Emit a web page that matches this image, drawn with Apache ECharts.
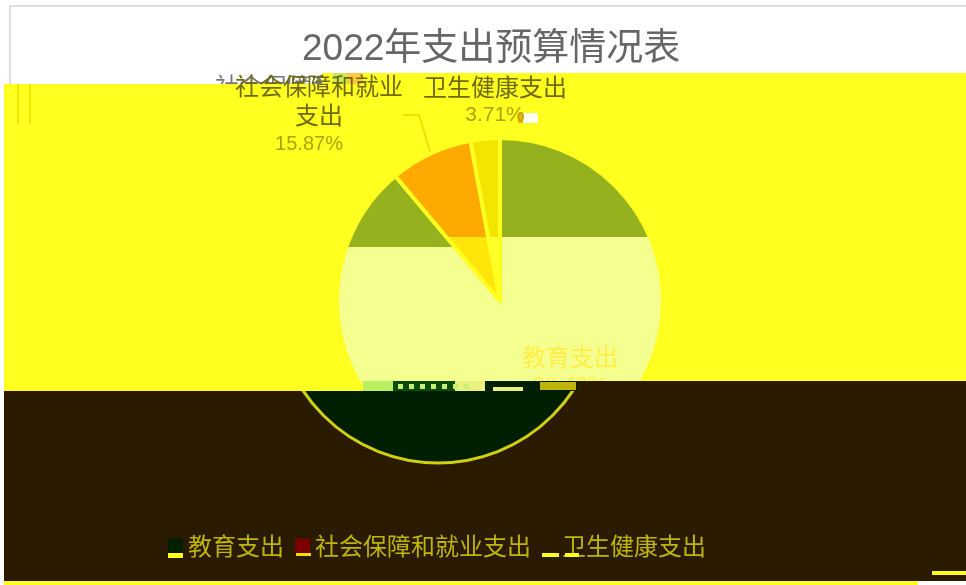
<!DOCTYPE html>
<html><head><meta charset="utf-8">
<style>html,body{margin:0;padding:0;background:#fff}#c{width:966px;height:585px}</style>
<script src="https://cdn.jsdelivr.net/npm/echarts@6/dist/echarts.min.js"></script></head>
<body><div id="c"></div>
<script>
const categories = ['教育支出', '社会保障和就业支出', '卫生健康支出'];
const categoryLabels = ['教育支出', '社会保障和就业\n支出', '卫生健康支出'];
const sliceShares = [88.9, 8.2, 2.9];
const printedPercents = ['80.42%', '15.87%', '3.71%'];
const titleText = '2022年支出预算情况表';

const YEL='#ffff20', BROWN='#2a1a00', DARK='#001e00', PALE='#f5ff90', OLIVE='#95b11d';
const grad = stops => new echarts.graphic.LinearGradient(0,0,0,585,
  stops.flatMap(([a,b,c]) => [{offset:a/585,color:c},{offset:b/585,color:c}]), true);
const T='rgba(0,0,0,0)';

const mainColors = [
  grad([[0,247,OLIVE],[247,585,PALE]]),
  grad([[0,237,'#ffaa00'],[237,585,'#ffe60a']]),
  grad([[0,237,'#f2e600'],[237,585,'#ffff30']])
];
const labelAnchors = [
  {x:570,y:371,align:'center',verticalAlign:'middle'},
  {x:319,y:115,align:'center',verticalAlign:'middle'},
  {x:495,y:101,align:'center',verticalAlign:'middle'}
];
const pctSizes=[22,20,21];
const pctPad=[[0,0,0,0],[0,20,0,0],[0,0,0,0]];
const rect=(x,y,w,h,fill,z)=>({type:'rect',shape:{x,y,width:w,height:h},style:{fill},z,silent:true});
const squares=[398,409,420,431,442,453,464].map(x=>rect(x,384,5,5,'#c8f070',3.6));

const chart = echarts.init(document.getElementById('c'));
chart.setOption({
  animation:false,
  backgroundColor:'#ffffff',
  title:{text:titleText,left:297,top:26,textStyle:{color:'#666',fontSize:37,fontWeight:'normal',fontFamily:'"Liberation Sans","Noto Sans CJK SC"'}},
  legend:{left:163,top:529,itemWidth:15,itemHeight:15,itemGap:11,icon:'rect',
    data:[
      {name:categories[0],itemStyle:{color:DARK,borderWidth:0}},
      {name:categories[1],itemStyle:{color:'#7a0000',borderWidth:0}},
      {name:categories[2],itemStyle:{color:BROWN,borderWidth:0}}
    ],
    textStyle:{color:'#bdb50a',fontSize:24,fontFamily:'"Noto Sans CJK SC"'}},
  graphic:[
    {type:'rect',shape:{x:10,y:6,width:970,height:100},style:{fill:'#fff',stroke:'#dedede',lineWidth:2},z:-3,silent:true},
    {type:'text',x:215,y:74,style:{text:'社会保障和就业',fontSize:24,fill:'#777',fontFamily:'"Noto Sans CJK SC"'},z:-2,silent:true},
    rect(4,84,962,297,YEL,-1),
    rect(322,73,644,11,YEL,-1),
    rect(4,381,361,10,YEL,-1),
    rect(17,84,2,40,'#f5e800',-0.5),
    rect(29,84,2,40,'#f5e800',-0.5),
    rect(333,73,14,11,'#c8e860',-0.5),
    rect(347,73,16,11,'#ffc840',-0.5),
    rect(523,113,15,10,'#fffff0',-0.5),
    rect(518,113,5,10,'#f0b000',-0.5),
    {type:'polygon',shape:{points:[[502,237],[648,237],[652,247],[502,247]]},style:{fill:PALE},z:2.2,silent:true},
    rect(4,391,962,190,BROWN,2.5),
    rect(577,381,389,10,BROWN,3.5),
    rect(363,381,30,10,'#b8f060',3.5),
    rect(393,381,62,10,'#0a4a0a',3.5),
    rect(455,381,30,10,'#e8f080',3.5),
    rect(485,381,92,10,DARK,3.5),
    rect(493,387,30,4,'#e8f080',3.6),
    rect(540,382,36,8,'#bdb50a',3.6),
    ...squares,
    rect(4,581,914,4,YEL,3.5),
    rect(932,571,34,4,YEL,3.5),
    rect(168,553,15,5,YEL,5),
    rect(296,553,15,3,'#e8e000',5),
    rect(542,553,17,4,YEL,5),
    rect(565,553,14,4,YEL,5)
  ],
  series:[
    {type:'pie',name:'main',z:2,center:[500,301],radius:[0,163],startAngle:90,clockwise:true,
     data:categories.map((n,i)=>({name:n,value:sliceShares[i],
       itemStyle:{color:mainColors[i],borderColor:YEL,borderWidth:4},
       label:{show:true,position:i===0?'inside':'outside',lineHeight:29,
         formatter:()=>categoryLabels[i].split('\n').map(s=>'{n|'+s+'}').join('\n')+'\n{p|'+printedPercents[i]+'}',
         rich:{n:{fontSize:24,lineHeight:29,color:i===0?'#ffee44':'#6f6a0c',fontFamily:'"Noto Sans CJK SC"',align:'center'},
               p:{fontSize:pctSizes[i],lineHeight:29,color:i===0?'#ffee44':'#b0a000',fontFamily:'"Liberation Sans"',align:'center',padding:pctPad[i]}}},
       labelLine:{show:i===1,length:20,length2:16,lineStyle:{color:'#ecd800',width:1.5}}
     })),
     labelLayout:p=>labelAnchors[p.dataIndex]
    },
    {type:'pie',name:'low',z:3,center:[438,301],radius:[0,162],startAngle:90,clockwise:true,silent:true,
     label:{show:false},labelLine:{show:false},
     data:categories.map((n,i)=>({name:n,value:sliceShares[i],
       itemStyle:i===0
         ?{color:grad([[0,391,T],[391,585,DARK]]),borderColor:grad([[0,391,T],[391,585,'#d0d010']]),borderWidth:3}
         :{color:T,borderWidth:0}}))
    }
  ]
});
</script></body></html>
